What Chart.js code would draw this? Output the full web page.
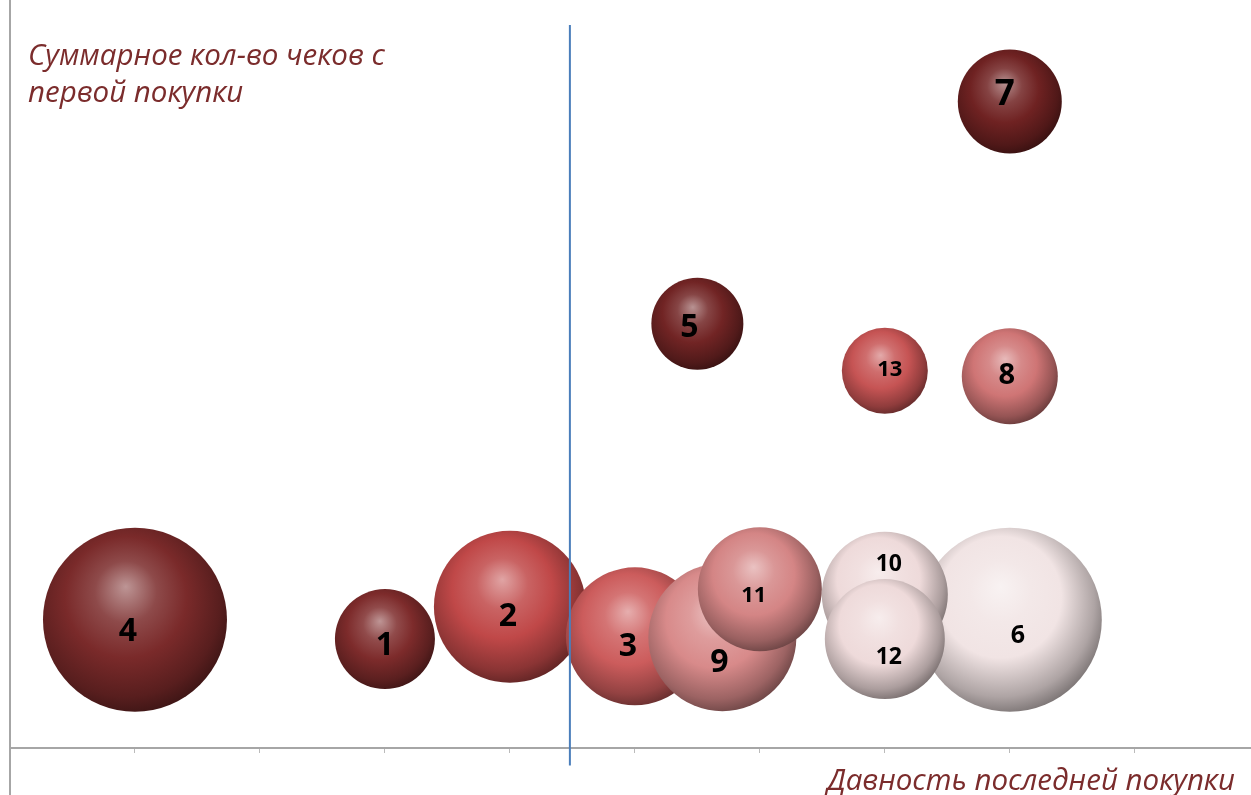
<!DOCTYPE html>
<html>
<head>
<meta charset="utf-8">
<script src="https://cdn.jsdelivr.net/npm/chart.js@4"></script>
<style>
  html, body { margin: 0; padding: 0; background: #fff; }
</style>
</head>
<body>
<canvas id="myChart" width="1251" height="795"></canvas>
<script>
// data
const labels = ['1', '2', '3', '4', '5', '6', '7', '8', '9', '10', '11', '12', '13'];
const xValues = [3, 4, 5, 1, 5.5, 8, 8, 8, 5.7, 7, 6, 7, 7];
const yValues = [1.68, 2.03, 1.71, 1.89, 5.10, 1.89, 7.51, 4.53, 1.70, 2.16, 2.22, 1.68, 4.59];
const sizes = [50, 76, 69, 92, 46, 92, 52, 48, 74, 63, 62, 60, 43];
const splitX = 4.48;
const yTitle = ['Суммарное кол-во чеков с', 'первой покупки'];
const xTitle = 'Давность последней покупки';

// styles
const colors = ['#7d2b2b', '#c04848', '#cc5c5c', '#7a2a2a', '#712424', '#f1e4e4', '#6f2222',
  '#cf7575', '#d88a8a', '#eedada', '#d48585', '#eedada', '#c65454'];
const labelSize = [32, 32, 32, 32, 32, 25, 35, 29, 32, 23, 22, 23, 22];
const labelShift = [[0, 7], [-2, 10], [-7, 11], [-7, 12], [-8, 4], [8, 16], [-5, -6],
  [-3, -1], [-3, 26], [4, -30], [-6, 6], [4, 18], [5, -1]];
const titleColor = '#7b2c2c';
const axisColor = '#a6a6a6';

function shade(hex, t) {
  const n = parseInt(hex.slice(1), 16);
  const f = c => Math.round(t > 0 ? c + (255 - c) * t : c * (1 + t));
  return 'rgb(' + f(n >> 16) + ',' + f((n >> 8) & 255) + ',' + f(n & 255) + ')';
}

function sphere(context) {
  const i = context.dataIndex;
  if (context.type !== 'data') return '#888';
  const base = colors[i];
  const chart = context.chart;
  const xs = chart.scales.x, ys = chart.scales.y;
  if (!xs || !ys || !chart.chartArea) return base;
  const cx = xs.getPixelForValue(xValues[i]);
  const cy = ys.getPixelForValue(yValues[i]);
  const r = sizes[i];
  const g = chart.ctx.createRadialGradient(cx - 0.1 * r, cy - 0.36 * r, 0,
    cx - 0.1 * r, cy - 0.15 * r, 1.2 * r);
  g.addColorStop(0, shade(base, 0.5));
  g.addColorStop(0.28, shade(base, 0.15));
  g.addColorStop(0.55, base);
  g.addColorStop(0.85, shade(base, -0.28));
  g.addColorStop(1, shade(base, -0.5));
  return g;
}

const points = labels.map((l, i) => ({ x: xValues[i], y: yValues[i], r: sizes[i] }));

// split line, bubble numbers and axis titles
const extras = {
  id: 'extras',
  afterDatasetsDraw(chart) {
    const ctx = chart.ctx;
    const xs = chart.scales.x, ys = chart.scales.y;
    ctx.save();
    // vertical divider
    const lx = xs.getPixelForValue(splitX);
    ctx.strokeStyle = '#4a7ebb';
    ctx.lineWidth = 2;
    ctx.beginPath();
    ctx.moveTo(lx, ys.getPixelForValue(8.34));
    ctx.lineTo(lx, ys.getPixelForValue(0.31));
    ctx.stroke();

    // bubble numbers
    const meta = chart.getDatasetMeta(0);
    ctx.fillStyle = '#000';
    ctx.textAlign = 'center';
    ctx.textBaseline = 'middle';
    meta.data.forEach((el, i) => {
      ctx.font = 'bold ' + labelSize[i] + 'px "Open Sans"';
      ctx.fillText(labels[i], el.x + labelShift[i][0], el.y + labelShift[i][1]);
    });

    // titles
    ctx.fillStyle = titleColor;
    ctx.font = 'italic 29.5px "Open Sans"';
    ctx.textAlign = 'left';
    ctx.textBaseline = 'alphabetic';
    ctx.fillText(yTitle[0], 28, 65);
    ctx.fillText(yTitle[1], 28, 102);
    ctx.textAlign = 'right';
    ctx.fillText(xTitle, 1235, 790);
    ctx.restore();
  }
};

const config = {
  type: 'bubble',
  data: {
    labels: labels,
    datasets: [{
      data: points,
      backgroundColor: sphere,
      borderWidth: 0,
      hoverRadius: 0
    }]
  },
  options: {
    responsive: false,
    animation: false,
    events: [],
    layout: { autoPadding: false, padding: { left: 10, top: 0, right: 0, bottom: 1 } },
    plugins: { legend: { display: false }, tooltip: { enabled: false } },
    scales: {
      x: {
        type: 'linear',
        position: { y: 0.5 },
        min: 0,
        max: 9.93,
        ticks: { display: false, stepSize: 1 },
        grid: { drawOnChartArea: false, tickLength: 4, color: '#bbbbbb' },
        border: { color: axisColor, width: 2 }
      },
      y: {
        type: 'linear',
        min: 0,
        max: 8.61,
        ticks: { display: false, stepSize: 1 },
        grid: { drawOnChartArea: false, drawTicks: false },
        border: { color: axisColor, width: 2 }
      }
    }
  },
  plugins: [extras]
};

var myChart = new Chart(document.getElementById('myChart'), config);
</script>
</body>
</html>
